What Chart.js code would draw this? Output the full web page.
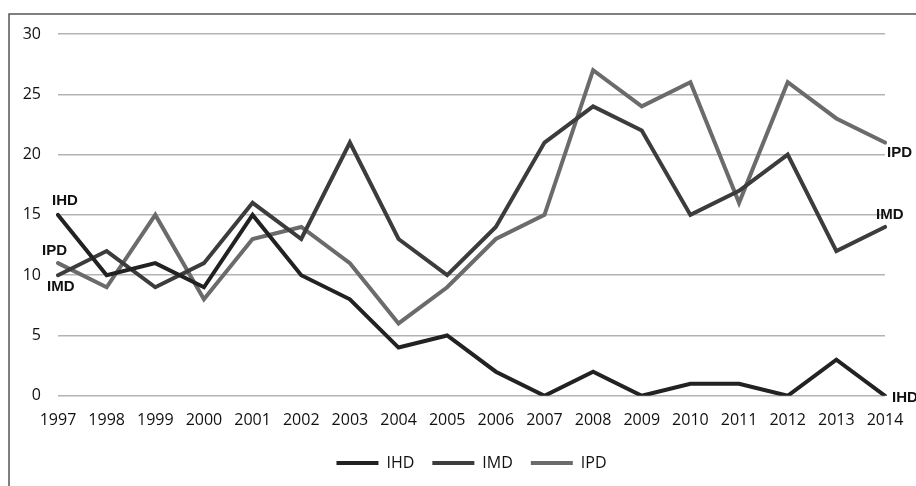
<!DOCTYPE html>
<html>
<head>
<meta charset="utf-8">
<script src="https://cdn.jsdelivr.net/npm/chart.js@4/dist/chart.umd.min.js"></script>
<style>
  html, body { margin: 0; padding: 0; background: #fff; }
  #wrap { position: relative; width: 916px; height: 486px; }
</style>
</head>
<body>
<div id="wrap"><canvas id="chart"></canvas></div>
<script>
// Data
const years = ['1997', '1998', '1999', '2000', '2001', '2002', '2003', '2004', '2005',
               '2006', '2007', '2008', '2009', '2010', '2011', '2012', '2013', '2014'];
const ihd = [15, 10, 11, 9, 15, 10, 8, 4, 5, 2, 0, 2, 0, 1, 1, 0, 3, 0];
const imd = [10, 12, 9, 11, 16, 13, 21, 13, 10, 14, 21, 24, 22, 15, 17, 20, 12, 14];
const ipd = [11, 9, 15, 8, 13, 14, 11, 6, 9, 13, 15, 27, 24, 26, 16, 26, 23, 21];
const yTicks = [0, 5, 10, 15, 20, 25, 30];

// Frame around the figure (only top and left edges are visible in the crop)
const framePlugin = {
    id: 'frame',
    beforeDraw(chart) {
        const ctx = chart.ctx;
        ctx.save();
        ctx.strokeStyle = '#555';
        ctx.lineWidth = 1.5;
        ctx.beginPath();
        ctx.moveTo(9, chart.height);
        ctx.lineTo(9, 14);
        ctx.lineTo(chart.width, 14);
        ctx.stroke();
        ctx.restore();
    }
};

// Series names written next to the first and last points
const endLabels = {
    id: 'endLabels',
    afterDatasetsDraw(chart, args, opts) {
        const ctx = chart.ctx;
        ctx.save();
        ctx.font = 'bold 15px "Liberation Sans", Arial, sans-serif';
        ctx.fillStyle = '#111';
        ctx.textBaseline = 'middle';
        opts.items.forEach(it => {
            const meta = chart.getDatasetMeta(it.dataset);
            const pt = meta.data[it.index];
            ctx.textAlign = it.align;
            ctx.fillText(chart.data.datasets[it.dataset].label, pt.x + it.dx, pt.y + it.dy);
        });
        ctx.restore();
    }
};

const ctx = document.getElementById('chart').getContext('2d');

new Chart(ctx, {
    type: 'line',
    data: {
        labels: years,
        datasets: [
            { label: 'IHD', data: ihd, borderColor: '#222222', backgroundColor: '#222222', borderWidth: 4 },
            { label: 'IMD', data: imd, borderColor: '#3c3c3c', backgroundColor: '#3c3c3c', borderWidth: 4 },
            { label: 'IPD', data: ipd, borderColor: '#6b6b6b', backgroundColor: '#6b6b6b', borderWidth: 4 }
        ]
    },
    options: {
        responsive: true,
        maintainAspectRatio: false,
        animation: false,
        layout: { padding: { top: 34, right: 31, bottom: 5, left: 0 } },
        elements: {
            line: { tension: 0, borderCapStyle: 'round', borderJoinStyle: 'miter' },
            point: { radius: 0, hoverRadius: 0 }
        },
        scales: {
            x: {
                offset: false,
                afterFit: s => { s.height -= 8; s.paddingRight = 0; },
                grid: { display: false, drawTicks: false },
                border: { display: false },
                ticks: {
                    color: '#111',
                    font: { family: '"Open Sans"', size: 16 },
                    padding: 15,
                    maxRotation: 0,
                    autoSkip: false
                }
            },
            y: {
                min: 0,
                max: 30,
                afterFit: s => { s.width = 58; },
                afterBuildTicks: s => { s.ticks = yTicks.map(v => ({ value: v })); },
                grid: { color: '#b3b3b3', lineWidth: 1.5, drawTicks: false },
                border: { display: false },
                ticks: {
                    color: '#111',
                    font: { family: '"Open Sans"', size: 16 },
                    padding: 17
                }
            }
        },
        plugins: {
            legend: {
                position: 'bottom',
                fullSize: false,
                labels: {
                    usePointStyle: true,
                    pointStyle: 'line',
                    pointStyleWidth: 42,
                    boxHeight: 4,
                    color: '#111',
                    font: { family: '"Open Sans"', size: 16 },
                    padding: 18
                }
            },
            tooltip: { enabled: false },
            endLabels: {
                items: [
                    { dataset: 0, index: 0,  dx: -6, dy: -14, align: 'left' },
                    { dataset: 2, index: 0,  dx: 9,  dy: -12, align: 'right' },
                    { dataset: 1, index: 0,  dx: -11, dy: 12, align: 'left' },
                    { dataset: 2, index: 17, dx: 2,  dy: 10,  align: 'left' },
                    { dataset: 1, index: 17, dx: -9, dy: -12, align: 'left' },
                    { dataset: 0, index: 17, dx: 7,  dy: 2,   align: 'left' }
                ]
            }
        }
    },
    plugins: [framePlugin, endLabels]
});
</script>
</body>
</html>
